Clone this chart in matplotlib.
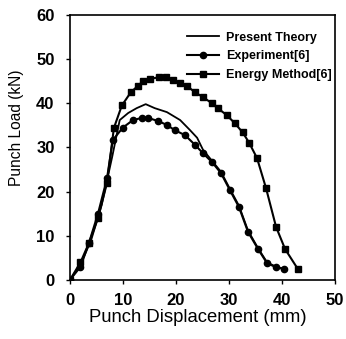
import matplotlib
matplotlib.use("Agg")
import matplotlib.pyplot as plt

plt.rcParams['font.family'] = ['Liberation Sans', 'DejaVu Sans']

theory_x = [0, 2, 4, 6, 8, 9.4, 11, 12.6, 14.3, 16, 18.3, 20.8, 22.6, 24, 25.1, 26.8, 28.5, 30.2, 31.9, 33.6, 35.5, 37.2, 38.9, 40.4]
theory_y = [0, 3.5, 9, 17, 28, 36.2, 37.8, 38.9, 39.8, 38.9, 38, 36.2, 34, 32.2, 29.5, 27, 24.5, 20.6, 16.8, 11.2, 7.2, 4, 3, 2.5]

exp_x = [0, 2, 3.6, 5.3, 7, 8.1, 10, 11.9, 13.6, 14.7, 16.6, 18.3, 19.8, 21.7, 23.6, 25.1, 26.8, 28.5, 30.2, 31.9, 33.6, 35.5, 37.2, 38.9, 40.4]
exp_y = [0, 3, 8.4, 15, 23, 31.7, 34.5, 36.2, 36.7, 36.7, 36, 35.1, 33.9, 32.8, 30.6, 28.7, 26.7, 24.2, 20.3, 16.5, 10.9, 7, 3.8, 2.9, 2.5]

energy_x = [0, 2, 3.6, 5.3, 7, 8.3, 9.8, 11.5, 12.8, 13.8, 15.1, 16.8, 18.1, 19.4, 20.7, 22.1, 23.6, 25.1, 26.8, 27.9, 29.6, 31.1, 32.6, 33.8, 35.3, 37, 38.9, 40.6, 43]
energy_y = [0, 4, 8.4, 14, 22, 34.4, 39.5, 42.5, 43.9, 45, 45.5, 45.9, 45.9, 45.2, 44.6, 43.9, 42.5, 41.4, 40, 38.9, 37.3, 35.5, 33.4, 31.1, 27.6, 20.8, 12, 7, 2.5]

xticks = [0, 10, 20, 30, 40, 50]
yticks = [0, 10, 20, 30, 40, 50, 60]

fig = plt.figure(figsize=(3.46, 3.39), dpi=100)
ax = fig.add_axes([0.202, 0.174, 0.766, 0.782])

ax.plot(theory_x, theory_y, color='black', lw=1.3, label='Present Theory')
ax.plot(exp_x, exp_y, color='black', lw=1.5, marker='o', markersize=4.5, label='Experiment[6]')
ax.plot(energy_x, energy_y, color='black', lw=1.5, marker='s', markersize=4.2, label='Energy Method[6]')

ax.set_xlim(0, 50)
ax.set_ylim(0, 60)
ax.set_xticks(xticks)
ax.set_yticks(yticks)
ax.tick_params(direction='out', length=3, width=1, labelsize=12)
ax.tick_params(axis='x', pad=6)
ax.tick_params(axis='y', pad=8)
for lab in ax.get_xticklabels() + ax.get_yticklabels():
    lab.set_fontweight('bold')
for s in ax.spines.values():
    s.set_linewidth(1.2)

ax.set_xlabel('Punch Displacement (mm)', fontsize=13.3)
ax.set_ylabel('Punch Load (kN)', fontsize=11.2)
ax.xaxis.set_label_coords(0.481, -0.143)
ax.xaxis.label.set_va('center')
ax.yaxis.set_label_coords(-0.2, 0.575)
ax.yaxis.label.set_va('center')

leg = ax.legend(loc='upper right', frameon=False, prop={'size': 9, 'weight': 'bold'},
                handlelength=2.6, borderaxespad=0.3, labelspacing=0.55, handletextpad=0.5,
                bbox_to_anchor=(1.02, 0.97))

fig.savefig('out.png', dpi=100)
